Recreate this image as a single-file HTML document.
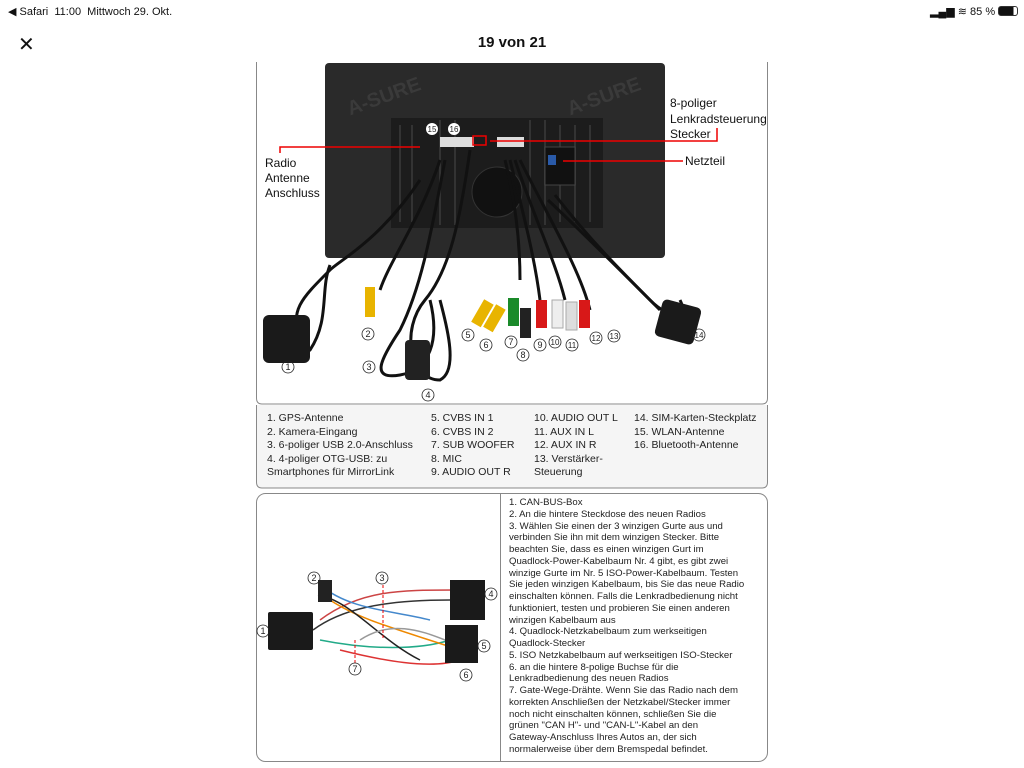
<!DOCTYPE html>
<html><head><meta charset="utf-8"><style>
body{margin:0;width:1024px;height:768px;background:#fff;position:relative;overflow:hidden;font-family:"Liberation Sans",sans-serif;color:#111}
.a{position:absolute;white-space:nowrap}
.leg{font-size:10.5px;line-height:13.6px;color:#222}
.rt{font-size:9.6px;line-height:11.75px;color:#222}
</style></head><body>
<div class="a" style="left:8px;top:5px;font-size:11px">◀ Safari&nbsp;&nbsp;11:00&nbsp;&nbsp;Mittwoch 29. Okt.</div>
<div class="a" style="left:930px;top:5px;font-size:11px">▂▄▆ ≋ 85 % <span style="display:inline-block;width:18px;height:8px;border:1px solid #333;border-radius:3px;vertical-align:-1px;background:linear-gradient(90deg,#111 80%,#fff 80%)"></span></div>
<div class="a" style="left:18px;top:32px;font-size:20px">✕</div>
<div class="a" style="left:0;width:1024px;text-align:center;top:34px;font-size:15px;font-weight:bold">19 von 21</div>

<svg class="a" style="left:0;top:0" width="1024" height="768">
<path d="M256.5 62 V398 Q256.5 404 262 404 H762 Q767.5 404 767.5 398 V62" fill="none" stroke="#888"/>
<rect x="325" y="63" width="340" height="195" rx="4" fill="#2a2a2a"/>
<rect x="391" y="118" width="212" height="110" fill="#1c1c1c"/>
<g stroke="#333" stroke-width="2">
<line x1="400" y1="125" x2="400" y2="222"/><line x1="412" y1="125" x2="412" y2="222"/><line x1="560" y1="125" x2="560" y2="222"/><line x1="575" y1="125" x2="575" y2="222"/><line x1="590" y1="125" x2="590" y2="222"/>
<line x1="440" y1="120" x2="440" y2="225"/><line x1="455" y1="120" x2="455" y2="225"/><line x1="530" y1="120" x2="530" y2="225"/><line x1="545" y1="120" x2="545" y2="225"/></g>
<circle cx="497" cy="192" r="25" fill="#111" stroke="#333"/>
<rect x="545" y="147" width="30" height="38" fill="#111" stroke="#444"/>
<rect x="548" y="155" width="8" height="10" fill="#2a5aa8"/>
<text x="350" y="105" font-size="20" font-weight="bold" fill="#3a3a3a" transform="rotate(-20 380 110)" font-family="Liberation Sans">A-SURE</text>
<text x="570" y="105" font-size="20" font-weight="bold" fill="#3a3a3a" transform="rotate(-20 600 110)" font-family="Liberation Sans">A-SURE</text>
<rect x="440" y="137" width="34" height="10" fill="#ddd"/><rect x="497" y="137" width="27" height="10" fill="#ddd"/><rect x="473" y="136" width="13" height="9" fill="none" stroke="#e00" stroke-width="1.5"/>
<g stroke="#e00" stroke-width="1.5" fill="none">
<path d="M280 153 V147 H420"/><path d="M717 128 V141 H490"/><path d="M563 161 H683"/>
</g>
<g fill="none" stroke="#111" stroke-width="3">
<path d="M420 180 C380 240 340 260 330 270 C300 300 290 310 300 340"/>
<path d="M330 265 C320 290 330 320 310 350 C300 360 290 340 305 320"/>
<path d="M440 160 C420 220 390 260 380 290"/>
<path d="M445 160 C430 240 420 290 400 330 C380 360 370 380 400 375 C430 370 440 340 430 300"/>
<path d="M470 150 C460 220 450 270 425 300 C400 330 410 380 440 380 C460 370 445 320 440 300"/>
<path d="M505 160 C515 200 520 240 520 280"/><path d="M510 160 C525 220 535 260 540 300"/>
<path d="M515 160 C535 220 555 260 565 300"/><path d="M520 160 C550 220 580 270 590 310"/>
<path d="M548 200 C580 230 610 260 650 300 C670 320 690 320 680 300"/>
<path d="M555 195 C590 240 620 270 660 310"/>
</g>
<rect x="263" y="315" width="47" height="48" rx="6" fill="#1a1a1a"/>
<rect x="658" y="303" width="40" height="38" rx="5" fill="#1a1a1a" transform="rotate(15 678 322)"/>
<rect x="365" y="287" width="10" height="30" fill="#e8b400"/>
<rect x="405" y="340" width="25" height="40" rx="4" fill="#222"/>
<g stroke-width="0">
<rect x="477" y="300" width="11" height="26" fill="#e8b400" transform="rotate(30 482 313)"/>
<rect x="489" y="305" width="11" height="26" fill="#e8b400" transform="rotate(30 494 318)"/>
<rect x="508" y="298" width="11" height="28" fill="#1a8a2a"/>
<rect x="520" y="308" width="11" height="30" fill="#222"/>
<rect x="536" y="300" width="11" height="28" fill="#d81818"/>
<rect x="552" y="300" width="11" height="28" fill="#eee" stroke="#aaa" stroke-width="1"/>
<rect x="566" y="302" width="11" height="28" fill="#ddd" stroke="#aaa" stroke-width="1"/>
<rect x="579" y="300" width="11" height="28" fill="#d81818"/>
</g>
<g font-size="9" font-family="Liberation Sans" text-anchor="middle" fill="#222" stroke-width="0.8">
<g fill="none" stroke="#222">
<circle cx="288" cy="367" r="6"/><circle cx="368" cy="334" r="6"/><circle cx="369" cy="367" r="6"/><circle cx="428" cy="395" r="6"/><circle cx="468" cy="335" r="6"/><circle cx="486" cy="345" r="6"/><circle cx="511" cy="342" r="6"/><circle cx="523" cy="355" r="6"/><circle cx="540" cy="345" r="6"/><circle cx="555" cy="342" r="6"/><circle cx="572" cy="345" r="6"/><circle cx="596" cy="338" r="6"/><circle cx="614" cy="336" r="6"/><circle cx="699" cy="335" r="6"/></g>
<text x="288" y="370">1</text><text x="368" y="337">2</text><text x="369" y="370">3</text><text x="428" y="398">4</text><text x="468" y="338">5</text><text x="486" y="348">6</text><text x="511" y="345">7</text><text x="523" y="358">8</text><text x="540" y="348">9</text><text x="555" y="345" font-size="8">10</text><text x="572" y="348" font-size="8">11</text><text x="596" y="341" font-size="8">12</text><text x="614" y="339" font-size="8">13</text><text x="699" y="338" font-size="8">14</text>
<circle cx="432" cy="129" r="6" fill="#fff"/><circle cx="454" cy="129" r="6" fill="#fff"/>
<text x="432" y="132" font-size="8">15</text><text x="454" y="132" font-size="8">16</text>
</g>
<path d="M256.5 405 V482 Q256.5 488 262 488 H762 Q767.5 488 767.5 482 V405" fill="#f5f5f5" stroke="#888"/>
<rect x="256.5" y="493.5" width="511" height="268" rx="9" fill="#fff" stroke="#888"/>
<line x1="500.5" y1="494" x2="500.5" y2="761" stroke="#888"/>
<g fill="none" stroke-width="1.5">
<path d="M313 630 C340 610 380 600 450 600" stroke="#333"/><path d="M320 620 C360 590 400 590 455 590" stroke="#c44"/>
<path d="M320 640 C370 650 420 650 450 640" stroke="#2a8"/><path d="M330 600 C360 620 400 630 460 650" stroke="#e80"/>
<path d="M318 595 C350 600 380 640 420 660" stroke="#222"/><path d="M340 650 C380 660 430 670 460 660" stroke="#d33"/>
<path d="M320 585 C350 610 390 610 430 620" stroke="#48c"/><path d="M360 640 C390 620 420 630 445 640" stroke="#999"/>
</g>
<rect x="268" y="612" width="45" height="38" rx="2" fill="#1a1a1a"/>
<rect x="318" y="580" width="14" height="22" fill="#222"/>
<rect x="450" y="580" width="35" height="40" fill="#1a1a1a"/>
<rect x="445" y="625" width="33" height="38" fill="#1a1a1a"/>
<g fill="none" stroke="#e00" stroke-dasharray="3,2"><path d="M383 585 V640"/><path d="M355 663 V640"/></g>
<g font-size="9" font-family="Liberation Sans" text-anchor="middle" fill="#222">
<g fill="none" stroke="#222" stroke-width="0.8"><circle cx="263" cy="631" r="6"/><circle cx="314" cy="578" r="6"/><circle cx="382" cy="578" r="6"/><circle cx="491" cy="594" r="6"/><circle cx="484" cy="646" r="6"/><circle cx="466" cy="675" r="6"/><circle cx="355" cy="669" r="6"/></g>
<text x="263" y="634">1</text><text x="314" y="581">2</text><text x="382" y="581">3</text><text x="491" y="597">4</text><text x="484" y="649">5</text><text x="466" y="678">6</text><text x="355" y="672">7</text>
</g>
</svg>

<div class="a" style="left:265px;top:156px;font-size:12px;line-height:15px">Radio<br>Antenne<br>Anschluss</div>
<div class="a" style="left:670px;top:96px;font-size:12px;line-height:15.5px">8-poliger<br>Lenkradsteuerung<br>Stecker</div>
<div class="a" style="left:685px;top:154px;font-size:12px">Netzteil</div>

<div class="a leg" style="left:267px;top:412px">1. GPS-Antenne<br>2. Kamera-Eingang<br>3. 6-poliger USB 2.0-Anschluss<br>4. 4-poliger OTG-USB: zu<br>Smartphones für MirrorLink</div>
<div class="a leg" style="left:431px;top:412px">5. CVBS IN 1<br>6. CVBS IN 2<br>7. SUB WOOFER<br>8. MIC<br>9. AUDIO OUT R</div>
<div class="a leg" style="left:534px;top:412px">10. AUDIO OUT L<br>11. AUX IN L<br>12. AUX IN R<br>13. Verstärker-<br>Steuerung</div>
<div class="a leg" style="left:634px;top:412px">14. SIM-Karten-Steckplatz<br>15. WLAN-Antenne<br>16. Bluetooth-Antenne</div>

<div class="a rt" style="left:509px;top:497px">1. CAN-BUS-Box<br>2. An die hintere Steckdose des neuen Radios<br>3. Wählen Sie einen der 3 winzigen Gurte aus und<br>verbinden Sie ihn mit dem winzigen Stecker. Bitte<br>beachten Sie, dass es einen winzigen Gurt im<br>Quadlock-Power-Kabelbaum Nr. 4 gibt, es gibt zwei<br>winzige Gurte im Nr. 5 ISO-Power-Kabelbaum. Testen<br>Sie jeden winzigen Kabelbaum, bis Sie das neue Radio<br>einschalten können. Falls die Lenkradbedienung nicht<br>funktioniert, testen und probieren Sie einen anderen<br>winzigen Kabelbaum aus<br>4. Quadlock-Netzkabelbaum zum werkseitigen<br>Quadlock-Stecker<br>5. ISO Netzkabelbaum auf werkseitigen ISO-Stecker<br>6. an die hintere 8-polige Buchse für die<br>Lenkradbedienung des neuen Radios<br>7. Gate-Wege-Drähte. Wenn Sie das Radio nach dem<br>korrekten Anschließen der Netzkabel/Stecker immer<br>noch nicht einschalten können, schließen Sie die<br>grünen "CAN H"- und "CAN-L"-Kabel an den<br>Gateway-Anschluss Ihres Autos an, der sich<br>normalerweise über dem Bremspedal befindet.</div>
</body></html>
